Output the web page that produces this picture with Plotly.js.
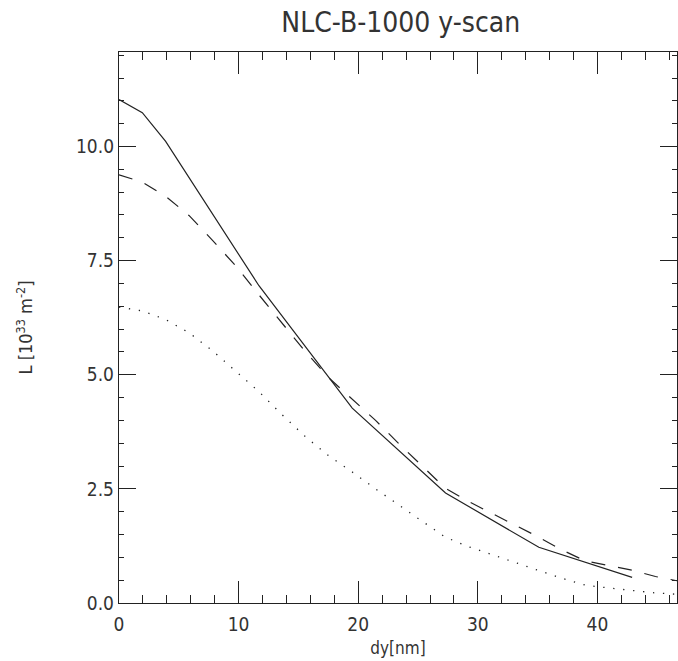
<!DOCTYPE html>
<html>
<head>
<meta charset="utf-8">
<script src="https://cdn.plot.ly/plotly-3.0.1.min.js"></script>
<style>html,body{margin:0;padding:0;background:#fff;}#chart{width:678px;height:661px;}</style>
</head>
<body>
<div id="chart"></div>
<script>
// dy [nm]
const solidX = [0, 1.95, 3.9, 11.7, 19.5, 27.3, 35.1, 39, 42.9];
const solidY = [11.03, 10.74, 10.11, 6.95, 4.27, 2.41, 1.22, 0.89, 0.56];

const dashedX = [0, 1.95, 3.9, 5.85, 7.8, 9.75, 11.7, 13.65, 15.6, 17.55, 19.5, 21.45, 23.4, 25.35, 27.3, 29.25, 31.2, 33.15, 35.1, 37.05, 39, 40.95, 42.9, 44.85, 46.8];
const dashedY = [9.38, 9.22, 8.91, 8.49, 7.95, 7.39, 6.75, 6.13, 5.50, 4.93, 4.46, 4.00, 3.49, 3.00, 2.51, 2.22, 1.96, 1.70, 1.44, 1.16, 0.92, 0.82, 0.72, 0.58, 0.48];

const dottedX = [0, 1.95, 3.9, 5.85, 7.8, 9.75, 11.7, 13.65, 15.6, 17.55, 19.5, 21.45, 23.4, 25.35, 27.3, 29.25, 31.2, 33.15, 35.1, 37.05, 39, 40.95, 42.9, 44.85, 46.8];
const dottedY = [6.48, 6.40, 6.21, 5.92, 5.53, 5.09, 4.63, 4.12, 3.64, 3.22, 2.87, 2.50, 2.14, 1.79, 1.44, 1.23, 1.06, 0.88, 0.71, 0.54, 0.39, 0.33, 0.28, 0.22, 0.19];

const titleText = "NLC-B-1000 y-scan";
const xTitle = "dy[nm]";
const yTitle = "L [10<sup>33</sup> m<sup>-2</sup>]";

const FONT = "'Liberation Sans Narrow', 'DejaVu Sans Condensed', 'Liberation Sans', sans-serif";
const INK = "#222";
const TXT = "#333";

const traces = [
  {x: solidX, y: solidY, mode: "lines", line: {color: INK, width: 1.2, dash: "solid"}, hoverinfo: "skip"},
  {x: dashedX, y: dashedY, mode: "lines", line: {color: INK, width: 1.2, dash: "14px,13px"}, hoverinfo: "skip"},
  {x: dottedX, y: dottedY, mode: "lines", line: {color: INK, width: 1.3, dash: "1.3px,8.7px"}, hoverinfo: "skip"}
];

const layout = {
  width: 678, height: 661,
  margin: {l: 119, r: 1, t: 52, b: 58, pad: 0},
  paper_bgcolor: "#fff", plot_bgcolor: "#fff",
  showlegend: false,
  font: {family: FONT, color: TXT},
  title: {text: titleText, font: {family: FONT, size: 28, color: TXT}, x: 0.505, xref: "paper", y: 0.966, yref: "container", yanchor: "middle", xanchor: "center"},
  xaxis: {
    range: [0, 46.65], autorange: false, dtick: 10, tick0: 0,
    ticks: "inside", ticklen: 22, tickwidth: 1, tickcolor: INK,
    minor: {dtick: 2, tick0: 0, ticks: "inside", ticklen: 8, tickwidth: 1, tickcolor: INK, showgrid: false},
    showline: true, linecolor: INK, linewidth: 1.2, mirror: "allticks",
    showgrid: false, zeroline: false,
    tickfont: {family: FONT, size: 19, color: TXT},
    ticklabelstandoff: 4,
    title: {text: xTitle, font: {family: FONT, size: 17, color: TXT}, standoff: 8},
    automargin: false
  },
  yaxis: {
    range: [0, 12.07], autorange: false, dtick: 2.5, tick0: 0, tickformat: ".1f",
    ticks: "inside", ticklen: 17, tickwidth: 1, tickcolor: INK,
    minor: {dtick: 0.5, tick0: 0, ticks: "inside", ticklen: 5, tickwidth: 1, tickcolor: INK, showgrid: false},
    showline: true, linecolor: INK, linewidth: 1.2, mirror: "allticks",
    showgrid: false, zeroline: false,
    tickfont: {family: FONT, size: 19, color: TXT},
    title: {text: yTitle, font: {family: FONT, size: 18, color: TXT}, standoff: 38},
    automargin: false
  }
};

Plotly.newPlot("chart", traces, layout, {staticPlot: true, displayModeBar: false});
</script>
</body>
</html>
